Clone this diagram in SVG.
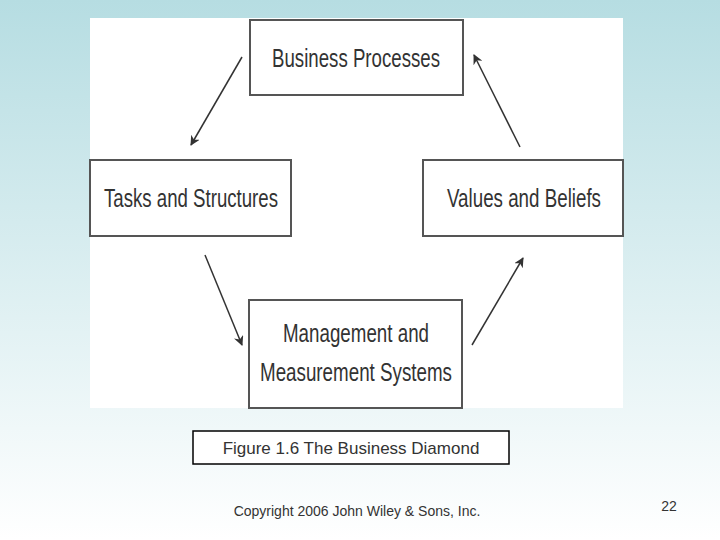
<svg xmlns="http://www.w3.org/2000/svg" width="720" height="540" viewBox="0 0 720 540">
<defs>
<linearGradient id="bg" x1="0" y1="0" x2="0" y2="1">
<stop offset="0" stop-color="#b6dde2"/><stop offset="1" stop-color="#ffffff"/>
</linearGradient>
<marker id="ah" viewBox="0 0 10 10" refX="9" refY="5" markerWidth="10" markerHeight="10" markerUnits="userSpaceOnUse" orient="auto">
<path d="M0,0 L10,5 L0,10 L3,5 z" fill="#333"/>
</marker>
<style>
.box{fill:#fff;stroke:#555;stroke-width:2}
.lbl{font-family:"Liberation Sans",Arial,sans-serif;font-size:25px;fill:#333;text-anchor:middle}
.con{stroke:#333;stroke-width:1.5;fill:none;marker-end:url(#ah)}
.t{font-family:"Liberation Sans",Arial,sans-serif;fill:#333}
</style>
</defs>
<rect width="720" height="540" fill="url(#bg)"/>
<rect x="90" y="18" width="533" height="390" fill="#fff"/>
<g id="bp"><rect class="box" x="250" y="20" width="213" height="75"/><text class="lbl" x="356" y="67" textLength="168" lengthAdjust="spacingAndGlyphs">Business Processes</text></g>
<g id="ts"><rect class="box" x="90" y="160" width="201" height="76"/><text class="lbl" x="191" y="207" textLength="174" lengthAdjust="spacingAndGlyphs">Tasks and Structures</text></g>
<g id="vb"><rect class="box" x="423" y="160" width="200" height="76"/><text class="lbl" x="524" y="207" textLength="154" lengthAdjust="spacingAndGlyphs">Values and Beliefs</text></g>
<g id="ms"><rect class="box" x="249" y="300" width="213" height="108"/><text class="lbl" x="356" y="342" textLength="146" lengthAdjust="spacingAndGlyphs">Management and</text><text class="lbl" x="356" y="381" textLength="192" lengthAdjust="spacingAndGlyphs">Measurement Systems</text></g>
<g id="connectors">
<line class="con" x1="242" y1="57" x2="191" y2="145"/>
<line class="con" x1="520" y1="147" x2="474" y2="55"/>
<line class="con" x1="205" y1="255" x2="242" y2="345"/>
<line class="con" x1="472" y1="345" x2="523" y2="258"/>
</g>
<g id="caption"><rect x="193" y="431" width="316" height="33" fill="#fff" stroke="#000" stroke-width="1.5"/><text class="t" x="351" y="454" font-size="17" text-anchor="middle" fill="#000">Figure 1.6 The Business Diamond</text></g>
<text class="t" x="357" y="516" font-size="14" text-anchor="middle">Copyright 2006 John Wiley &amp; Sons, Inc.</text>
<text class="t" x="669" y="511" font-size="14" text-anchor="middle">22</text>
</svg>
